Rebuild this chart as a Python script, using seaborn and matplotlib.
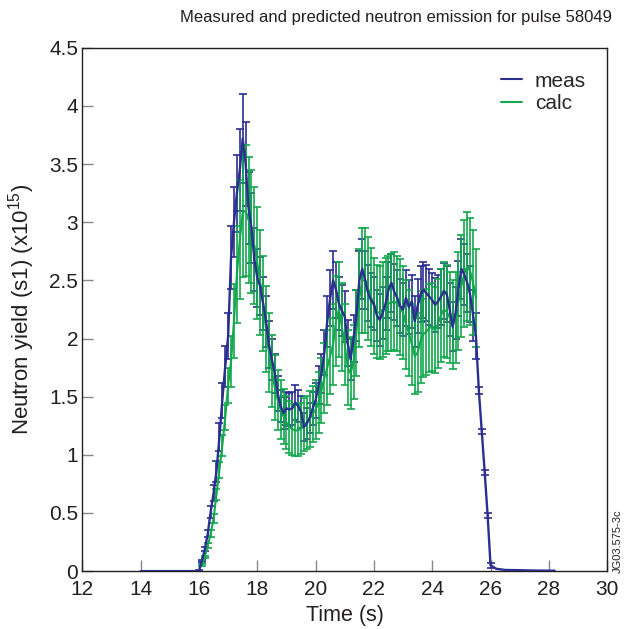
import numpy as np
import pandas as pd
import matplotlib
matplotlib.use("Agg")
import matplotlib.pyplot as plt
from matplotlib.ticker import FuncFormatter
from matplotlib.lines import Line2D
import seaborn as sns

# ---------------- data ----------------
meas_time = [16.0, 16.1, 16.2, 16.3, 16.4, 16.5, 16.6, 16.7, 16.8, 16.9,
             17.0, 17.1, 17.2, 17.3, 17.4, 17.5, 17.6, 17.7, 17.8, 17.9,
             18.0, 18.1, 18.2, 18.3, 18.4, 18.5, 18.6, 18.7, 18.8, 18.9,
             19.0, 19.1, 19.2, 19.3, 19.4, 19.5, 19.6, 19.7, 19.8, 19.9,
             20.0, 20.1, 20.2, 20.3, 20.4, 20.5, 20.6, 20.7, 20.8, 20.9,
             21.0, 21.1, 21.2, 21.3, 21.4, 21.5, 21.6, 21.7, 21.8, 21.9,
             22.0, 22.1, 22.2, 22.3, 22.4, 22.5, 22.6, 22.7, 22.8, 22.9,
             23.0, 23.1, 23.2, 23.3, 23.4, 23.5, 23.6, 23.7, 23.8, 23.9,
             24.0, 24.1, 24.2, 24.3, 24.4, 24.5, 24.6, 24.7, 24.8, 24.9,
             25.0, 25.1, 25.2, 25.3, 25.4, 25.5, 25.6, 25.7, 25.8, 25.9,
             26.0]
meas_val = [0.00, 0.09, 0.19, 0.32, 0.51, 0.67, 0.86, 1.15, 1.47, 1.76,
            2.02, 2.70, 3.00, 3.25, 3.45, 3.72, 3.50, 3.12, 2.95, 2.68,
            2.52, 2.45, 2.30, 2.15, 1.95, 1.82, 1.70, 1.53, 1.42, 1.36,
            1.40, 1.39, 1.40, 1.45, 1.42, 1.37, 1.24, 1.27, 1.32, 1.40,
            1.47, 1.60, 1.70, 1.88, 2.15, 2.35, 2.50, 2.42, 2.30, 2.24,
            2.19, 1.96, 1.82, 2.00, 2.20, 2.50, 2.60, 2.50, 2.39, 2.33,
            2.30, 2.20, 2.16, 2.22, 2.30, 2.42, 2.48, 2.40, 2.35, 2.28,
            2.25, 2.35, 2.27, 2.32, 2.15, 2.28, 2.38, 2.42, 2.39, 2.36,
            2.33, 2.29, 2.32, 2.36, 2.41, 2.38, 2.25, 2.10, 2.22, 2.43,
            2.60, 2.55, 2.48, 2.38, 2.20, 2.02, 1.55, 1.20, 0.85, 0.48,
            0.05]
meas_err = [0.01, 0.01, 0.02, 0.03, 0.05, 0.07, 0.09, 0.12, 0.15, 0.18,
            0.20, 0.27, 0.30, 0.33, 0.35, 0.38, 0.36, 0.31, 0.30, 0.27,
            0.25, 0.25, 0.23, 0.22, 0.20, 0.18, 0.17, 0.15, 0.14, 0.14,
            0.14, 0.14, 0.14, 0.15, 0.14, 0.14, 0.12, 0.13, 0.13, 0.14,
            0.15, 0.16, 0.17, 0.19, 0.22, 0.24, 0.25, 0.24, 0.23, 0.22,
            0.22, 0.20, 0.18, 0.20, 0.22, 0.25, 0.26, 0.25, 0.24, 0.23,
            0.23, 0.22, 0.22, 0.22, 0.23, 0.24, 0.25, 0.24, 0.24, 0.23,
            0.23, 0.24, 0.23, 0.23, 0.22, 0.23, 0.24, 0.24, 0.24, 0.24,
            0.23, 0.23, 0.23, 0.24, 0.24, 0.24, 0.23, 0.21, 0.22, 0.24,
            0.26, 0.26, 0.25, 0.24, 0.22, 0.20, 0.03, 0.02, 0.02, 0.02,
            0.02]
# flat baseline before and after the pulse (no error bars)
meas_pre_time = [14.0, 15.0, 15.5]
meas_pre_val = [0.0, 0.0, 0.0]
meas_post_time = [26.2, 26.5, 27.0, 27.5, 28.0, 28.2]
meas_post_val = [0.02, 0.01, 0.008, 0.005, 0.004, 0.004]

calc_time = [16.1, 16.2, 16.3, 16.4, 16.5, 16.6, 16.7, 16.8, 16.9,
             17.0, 17.1, 17.2, 17.3, 17.4, 17.5, 17.6, 17.7, 17.8, 17.9,
             18.0, 18.1, 18.2, 18.3, 18.4, 18.5, 18.6, 18.7, 18.8, 18.9,
             19.0, 19.1, 19.2, 19.3, 19.4, 19.5, 19.6, 19.7, 19.8, 19.9,
             20.0, 20.1, 20.2, 20.3, 20.4, 20.5, 20.6, 20.7, 20.8, 20.9,
             21.0, 21.1, 21.2, 21.3, 21.4, 21.5, 21.6, 21.7, 21.8, 21.9,
             22.0, 22.1, 22.2, 22.3, 22.4, 22.5, 22.6, 22.7, 22.8, 22.9,
             23.0, 23.1, 23.2, 23.3, 23.4, 23.5, 23.6, 23.7, 23.8, 23.9,
             24.0, 24.1, 24.2, 24.3, 24.4, 24.5, 24.6, 24.7, 24.8, 24.9,
             25.0, 25.1, 25.2, 25.3, 25.4, 25.5]
calc_val = [0.05, 0.12, 0.22, 0.32, 0.45, 0.66, 0.87, 1.08, 1.32,
            1.60, 1.80, 2.15, 2.55, 2.85, 3.08, 3.10, 3.02, 2.92, 2.80,
            2.65, 2.48, 2.30, 2.08, 1.88, 1.72, 1.58, 1.47, 1.39, 1.33,
            1.28, 1.24, 1.22, 1.21, 1.21, 1.23, 1.26, 1.28, 1.31, 1.35,
            1.39, 1.45, 1.55, 1.66, 1.75, 1.85, 1.95, 2.15, 2.25, 2.10,
            1.95, 1.75, 1.70, 1.80, 2.05, 2.35, 2.50, 2.50, 2.43, 2.36,
            2.28, 2.23, 2.22, 2.25, 2.28, 2.30, 2.31, 2.32, 2.30, 2.27,
            2.22, 2.12, 2.05, 1.95, 1.85, 1.88, 1.98, 2.04, 2.06, 2.09,
            2.10, 2.07, 2.13, 2.20, 2.25, 2.23, 2.18, 2.12, 2.18, 2.32,
            2.45, 2.56, 2.62, 2.58, 2.48, 2.35]
calc_err = [0.01, 0.01, 0.02, 0.03, 0.04, 0.05, 0.07, 0.09, 0.11,
            0.15, 0.22, 0.32, 0.42, 0.51, 0.55, 0.56, 0.54, 0.53, 0.50,
            0.48, 0.45, 0.41, 0.37, 0.34, 0.31, 0.28, 0.26, 0.25, 0.24,
            0.23, 0.22, 0.22, 0.22, 0.22, 0.22, 0.23, 0.23, 0.24, 0.24,
            0.25, 0.26, 0.28, 0.30, 0.32, 0.33, 0.35, 0.39, 0.41, 0.38,
            0.35, 0.32, 0.31, 0.32, 0.37, 0.42, 0.45, 0.45, 0.44, 0.42,
            0.41, 0.40, 0.40, 0.41, 0.41, 0.41, 0.42, 0.42, 0.41, 0.41,
            0.40, 0.38, 0.37, 0.35, 0.33, 0.34, 0.36, 0.37, 0.37, 0.38,
            0.38, 0.37, 0.38, 0.40, 0.41, 0.40, 0.39, 0.38, 0.39, 0.42,
            0.44, 0.46, 0.47, 0.46, 0.45, 0.42]

x_ticks = [12, 14, 16, 18, 20, 22, 24, 26, 28, 30]
y_ticks = [0, 0.5, 1, 1.5, 2, 2.5, 3, 3.5, 4, 4.5]

# ---------------- style ----------------
sns.set_style("ticks")
plt.rcParams["font.family"] = ["Liberation Sans", "DejaVu Sans"]
plt.rcParams["mathtext.fontset"] = "custom"
plt.rcParams["mathtext.rm"] = "Liberation Sans"
plt.rcParams["mathtext.default"] = "regular"

BLUE = "#2b2f8f"
GREEN = "#13a84e"
TXT = "#231f20"

fig = plt.figure(figsize=(6.24, 6.29), dpi=100)
ax = fig.add_axes([0.132, 0.092, 0.841, 0.832])

meas_df = pd.DataFrame({"t": meas_pre_time + meas_time + meas_post_time,
                        "v": meas_pre_val + meas_val + meas_post_val})
calc_df = pd.DataFrame({"t": calc_time, "v": calc_val})

# error bars
ax.errorbar(meas_time, meas_val, yerr=meas_err, fmt="none", ecolor=BLUE,
            elinewidth=1.2, capsize=3, capthick=1.2, zorder=2)
ax.errorbar(calc_time, calc_val, yerr=calc_err, fmt="none", ecolor=GREEN,
            elinewidth=1.2, capsize=3, capthick=1.2, zorder=3)

sns.lineplot(data=calc_df, x="t", y="v", ax=ax, color=GREEN, lw=1.5,
             estimator=None, sort=False, zorder=4, legend=False)
sns.lineplot(data=meas_df, x="t", y="v", ax=ax, color=BLUE, lw=1.7,
             estimator=None, sort=False, zorder=5, legend=False)

ax.set_xlim(12, 30)
ax.set_ylim(0, 4.5)
ax.set_xticks(x_ticks)
ax.set_yticks(y_ticks)
ax.yaxis.set_major_formatter(FuncFormatter(lambda v, p: f"{v:g}"))
ax.tick_params(axis="both", direction="in", length=8, width=1,
               color="#888888", labelsize=15, labelcolor=TXT)
ax.tick_params(axis="x", pad=6.5)
ax.tick_params(axis="y", pad=3)
for s in ax.spines.values():
    s.set_color(TXT)
    s.set_linewidth(1.0)

ax.set_xlabel("Time (s)", fontsize=15.5, color=TXT, labelpad=4)
ax.set_ylabel(r"Neutron yield (s1) (x10$^{15}$)", fontsize=16, color=TXT,
              labelpad=9)
fig.text(0.635, 0.972, "Measured and predicted neutron emission for pulse 58049",
         fontsize=12, color=TXT, ha="center", va="center")

handles = [Line2D([], [], color=BLUE, lw=1.5),
           Line2D([], [], color=GREEN, lw=1.5)]
ax.legend(handles, ["meas", "calc"], loc="upper right", frameon=False,
          fontsize=15, handlelength=1.0, handletextpad=0.6,
          borderaxespad=0.5, labelspacing=0.15, bbox_to_anchor=(0.995, 0.99))

fig.text(0.99, 0.14, "JG03.575-3c", rotation=90, fontsize=8,
         color=TXT, ha="center", va="center")

fig.savefig("out.png", dpi=100)
